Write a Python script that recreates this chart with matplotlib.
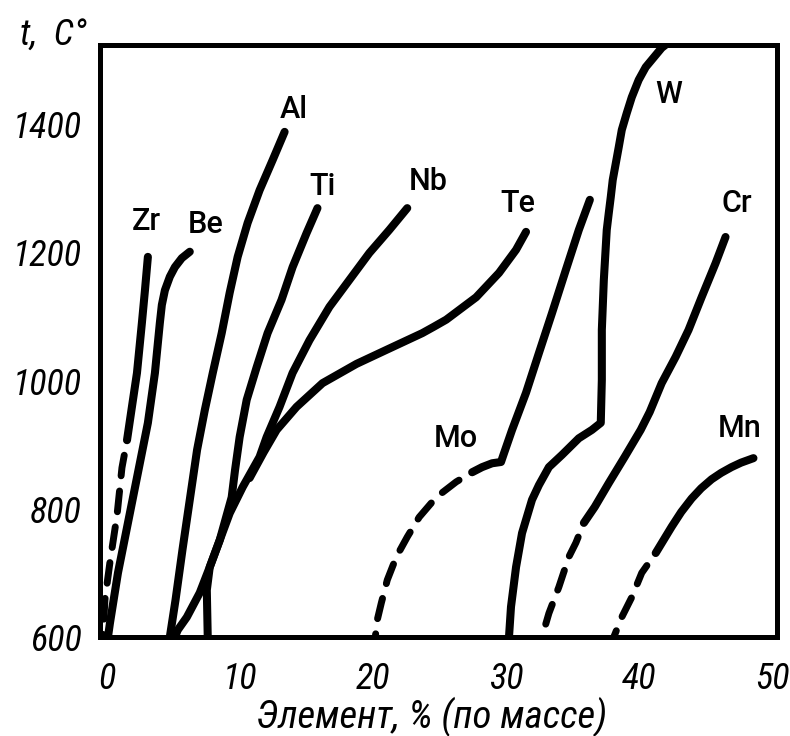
import matplotlib
matplotlib.use("Agg")
import matplotlib.pyplot as plt
from matplotlib.transforms import ScaledTranslation

# ---------------- data ----------------
x_ticks = [0, 10, 20, 30, 40, 50]
x_tick_marks = [10, 20, 30, 40]
y_ticks = [600, 800, 1000, 1200, 1400]
y_tick_marks = [800, 1000, 1200, 1400]
x_label = "Элемент, % (по массе)"
y_label = "t,  C°"

zr_x = [2.70, 2.48, 2.25, 1.88, 1.50, 1.13]
zr_y = [1193, 1141, 1090, 1012, 959, 907]
zr_dash_x = [1.13, 0.75, 0.38, -0.15, -0.53, -0.68]
zr_dash_y = [907, 864, 790, 717, 658, 600]

be_x = [5.85, 5.25, 4.73, 4.35, 3.98, 3.75, 3.60, 3.23, 2.70, 1.95, 1.20, 0.45, -0.15, -0.30]
be_y = [1201, 1191, 1177, 1162, 1141, 1118, 1090, 1012, 934, 856, 778, 700, 622, 600]

al_x = [12.98, 12.08, 11.10, 10.20, 9.45, 8.85, 8.25, 7.58, 6.98, 6.40, 5.85, 5.30, 4.78, 4.35]
al_y = [1388, 1344, 1297, 1246, 1193, 1137, 1074, 1012, 954, 892, 814, 736, 658, 600]

ti_x = [15.45, 14.63, 13.58, 12.75, 11.70, 10.88, 10.13, 9.60, 9.25, 9.00, 8.10, 7.35, 7.13, 7.20]
ti_y = [1269, 1230, 1177, 1126, 1074, 1021, 970, 912, 860, 818, 751, 709, 673, 600]

nb_x = [22.20, 20.85, 19.35, 17.85, 16.35, 14.85, 13.58, 12.60, 11.63, 11.10, 9.83, 8.85,
        8.10, 7.35, 6.60, 5.63, 4.95, 4.73]
nb_y = [1269, 1235, 1199, 1157, 1115, 1063, 1012, 959, 912, 881, 834, 793,
        751, 709, 669, 631, 611, 600]

te_x = [31.13, 30.38, 29.10, 27.38, 25.13, 24.20, 23.33, 20.85, 18.38, 15.83, 13.88, 12.38, 11.40, 10.35]
te_y = [1232, 1204, 1168, 1130, 1095, 1084, 1074, 1050, 1026, 996, 959, 923, 888, 848]

mo_x = [35.93, 35.10, 34.13, 33.08, 32.10, 31.13, 30.08, 29.48, 29.25, 28.58, 27.83, 27.08]
mo_y = [1282, 1235, 1173, 1105, 1043, 981, 923, 887, 873, 871, 865, 857]
mo_dash_x = [27.08, 25.88, 24.38, 23.10, 22.20, 21.38, 20.70, 20.25, 19.95, 19.80]
mo_dash_y = [857, 842, 818, 787, 756, 725, 689, 653, 627, 600]

w_x = [42.00, 41.33, 40.13, 39.60, 39.08, 38.70, 38.33, 38.10, 37.88, 37.65, 37.50, 37.35, 37.20,
       36.98, 36.83, 36.83, 36.75, 36.08, 35.10, 33.83, 32.85, 32.10, 31.58, 30.83, 30.38, 30.00, 29.85]
w_y = [1530, 1519, 1489, 1469, 1442, 1417, 1391, 1364, 1339, 1313, 1286, 1261, 1235,
       1157, 1079, 1001, 934, 923, 910, 884, 865, 837, 814, 762, 709, 647, 600]

cr_x = [46.13, 45.38, 44.33, 43.35, 42.38, 41.33, 40.43, 39.75, 38.55, 37.35, 36.30, 35.48]
cr_y = [1224, 1183, 1130, 1079, 1037, 996, 951, 923, 881, 840, 803, 778]
cr_dash_x = [35.48, 34.88, 34.35, 33.60, 32.85, 32.33]
cr_dash_y = [778, 747, 725, 678, 637, 600]

mn_x = [48.23, 47.30, 46.58, 45.80, 45.08, 44.30, 43.58, 42.80, 42.08, 40.88]
mn_y = [879, 872, 865, 856, 846, 832, 816, 795, 772, 731]
mn_dash_x = [40.88, 39.83, 39.08, 38.33, 37.73]
mn_dash_y = [731, 700, 662, 631, 600]

element_names = ["Zr", "Be", "Al", "Ti", "Nb", "Te", "Mo", "W", "Cr", "Mn"]

# ---------------- layout / style ----------------
label_pos = {  # (x, baseline y) in data units
    "Zr": (2.55, 1235), "Be": (7.05, 1230), "Al": (13.65, 1410), "Ti": (15.83, 1290),
    "Nb": (23.78, 1297), "Te": (30.53, 1263), "Mo": (25.88, 896), "W": (41.85, 1433),
    "Cr": (46.95, 1263), "Mn": (47.18, 912),
}

W_PX, H_PX, DPI = 790, 736, 100
fig = plt.figure(figsize=(W_PX / DPI, H_PX / DPI), dpi=DPI, facecolor="white")
ax = fig.add_axes([100 / W_PX, 1 - 637 / H_PX, 677 / W_PX, 592 / H_PX])
ax.set_xlim(-0.9, 49.88)
ax.set_ylim(600, 1523.5)

tick_font = dict(family=["Roboto Condensed", "DejaVu Sans"], style="italic", size=26)
xlabel_font = dict(family=["Roboto Condensed", "DejaVu Sans"], style="italic", size=28)
name_font = dict(family=["Roboto", "DejaVu Sans"], size=22, weight=500)

LW = 5.8
DLW = 5.0
dash_gap_first = (3.0, (3.0, 2.2))

solid = [(zr_x, zr_y), (be_x, be_y), (al_x, al_y), (ti_x, ti_y), (nb_x, nb_y),
         (te_x, te_y), (mo_x, mo_y), (w_x, w_y), (cr_x, cr_y), (mn_x, mn_y)]
for xs, ys in solid:
    ax.plot(xs, ys, color="black", lw=LW, solid_capstyle="round",
            solid_joinstyle="round", zorder=2)

for xs, ys in [(zr_dash_x, zr_dash_y), (mo_dash_x, mo_dash_y),
               (cr_dash_x, cr_dash_y), (mn_dash_x, mn_dash_y)]:
    ax.plot(xs, ys, color="black", lw=DLW, linestyle=dash_gap_first,
            dash_capstyle="round", zorder=2)

for name in element_names:
    x, y = label_pos[name]
    ax.text(x, y, name, ha="center", va="baseline", color="black", **name_font)

for s in ax.spines.values():
    s.set_linewidth(3.6)
    s.set_color("black")
    s.set_zorder(5)

ax.set_xticks(x_ticks)
ax.set_yticks(y_ticks)
ax.set_xticks(x_tick_marks, minor=True)
ax.set_yticks(y_tick_marks, minor=True)
ax.tick_params(which="major", length=0)
ax.tick_params(axis="x", which="major", pad=17)
ax.tick_params(axis="y", which="major", pad=13)
ax.tick_params(axis="x", which="minor", direction="in", length=18, width=2.0,
               labelbottom=False)
ax.tick_params(axis="y", which="minor", direction="in", length=18, width=2.6,
               labelleft=False)
ax.set_xticklabels([str(v) for v in x_ticks], **tick_font)
ax.set_yticklabels([str(v) for v in y_ticks], **tick_font)
shift = ScaledTranslation(-5 / DPI, 0, fig.dpi_scale_trans)
for lab in ax.get_xticklabels():
    lab.set_transform(lab.get_transform() + shift)

fig.text(20 / W_PX, 1 - 45 / H_PX, y_label, ha="left", va="baseline", **tick_font)
fig.text(432 / W_PX, 1 - 728 / H_PX, x_label, ha="center", va="baseline", **xlabel_font)

fig.savefig("out.png", dpi=DPI, facecolor="white")
